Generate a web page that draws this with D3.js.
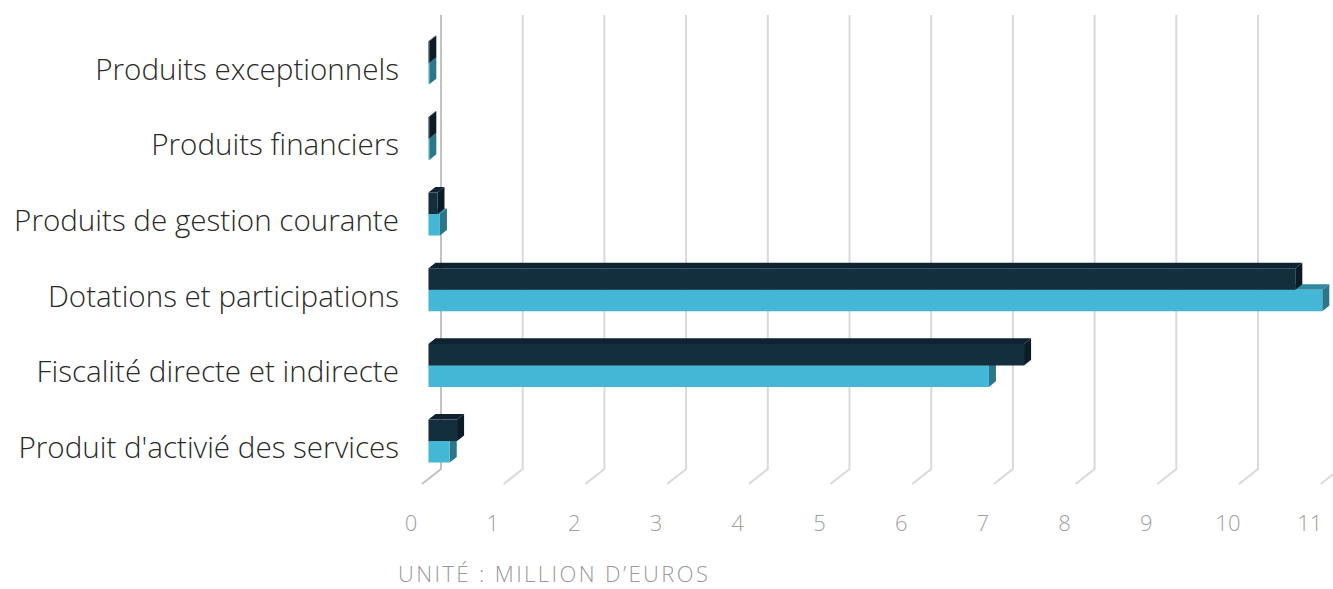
<!DOCTYPE html>
<html>
<head>
<meta charset="utf-8">
<script src="https://cdn.jsdelivr.net/npm/d3@7"></script>
<style>
  body { margin: 0; background: #fff; }
  svg { display: block; }
</style>
</head>
<body>
<svg width="1333" height="589"></svg>
<script>
// data
const categories = [
  "Produits exceptionnels",
  "Produits financiers",
  "Produits de gestion courante",
  "Dotations et participations",
  "Fiscalité directe et indirecte",
  "Produit d'activié des services"
];
const serieSombre = [0.01, 0.01, 0.11, 10.61, 7.29, 0.35];
const serieClaire = [0.01, 0.01, 0.14, 10.94, 6.86, 0.26];
const tickValues = [0, 1, 2, 3, 4, 5, 6, 7, 8, 9, 10, 11];
const unitLabel = "UNITÉ : MILLION D’EUROS";

const svg = d3.select("svg"),
    width = +svg.attr("width"),
    height = +svg.attr("height");

// back plane of the plot
const plotTop = 15, plotBottom = 469;
const depth = [-19, 15];          // floor depth, back -> front
const zBack = 0.29, zFront = 0.66; // where the bars sit in depth

const x = d3.scaleLinear().domain([0, 11]).range([441, 1339.7]);
const y = d3.scaleBand().domain(categories).range([plotTop, plotBottom])
    .paddingInner(0.432).paddingOuter(0.216);
const ySub = d3.scaleBand().domain(["sombre", "claire"]).range([0, y.bandwidth()]);

const P = (v, ys, z) => [x(v) + z * depth[0], ys + z * depth[1]];
const poly = pts => "M" + pts.map(p => p.join(",")).join("L") + "Z";

// grid: vertical walls + floor
svg.append("g")
  .selectAll("path")
  .data(tickValues)
  .join("path")
    .attr("d", t => "M" + x(t) + "," + plotTop + "L" + x(t) + "," + plotBottom +
        "L" + (x(t) + depth[0]) + "," + (plotBottom + depth[1]))
    .attr("fill", "none")
    .attr("stroke", t => t === 0 ? "#c2c2c2" : "#d9d9d9")
    .attr("stroke-width", 2);

// tick labels
svg.append("g")
  .selectAll("text")
  .data(tickValues)
  .join("text")
    .attr("x", t => x(t) + depth[0] - 11)
    .attr("y", 531)
    .attr("text-anchor", "middle")
    .style("font-family", "'Open Sans', sans-serif")
    .style("font-weight", 300)
    .style("font-size", "22px")
    .style("fill", "#a0a0a0")
    .text(d => d);

// bars
const series = [
  { key: "claire", values: serieClaire, front: "#43b7d5", top: "#3189a0", side: "#2b7689" },
  { key: "sombre", values: serieSombre, front: "#132e3d", top: "#0e2230", side: "#0b1c26" }
];

const bars = [];
categories.forEach((c, i) => {
  series.forEach(s => {
    bars.push({ cat: c, key: s.key, v: s.values[i], s: s });
  });
});
// lower categories first, light bar under dark bar
bars.sort((a, b) => categories.indexOf(b.cat) - categories.indexOf(a.cat));

const g = svg.append("g");
bars.forEach(b => {
  const yt = y(b.cat) + ySub(b.key), yb = yt + ySub.bandwidth();
  const bg = g.append("g");
  bg.append("path")
    .attr("d", poly([P(0, yt, zFront), P(b.v, yt, zFront), P(b.v, yt, zBack), P(0, yt, zBack)]))
    .attr("fill", b.s.top);
  bg.append("path")
    .attr("d", poly([P(b.v, yt, zFront), P(b.v, yb, zFront), P(b.v, yb, zBack), P(b.v, yt, zBack)]))
    .attr("fill", b.s.side);
  bg.append("path")
    .attr("d", poly([P(0, yt, zFront), P(b.v, yt, zFront), P(b.v, yb, zFront), P(0, yb, zFront)]))
    .attr("fill", b.s.front);
});

// category labels
const labels = svg.append("g")
  .selectAll("text")
  .data(categories)
  .join("text")
    .attr("x", 399)
    .attr("y", d => y(d) + y.bandwidth() / 2 + depth[1] + 1.5)
    .attr("dy", "0.35em")
    .attr("text-anchor", "end")
    .style("font-family", "'Open Sans', sans-serif")
    .style("font-weight", 300)
    .style("font-size", "24px")
    .style("fill", "#2a2a2a")
    .text(d => d);

// fit the longest label to the reference width
let maxW = 0;
labels.each(function () { maxW = Math.max(maxW, this.getComputedTextLength()); });
labels.style("font-size", (24 * 385 / maxW) + "px");

// unit label, widened with letter spacing
const unit = svg.append("text")
    .attr("x", 398)
    .attr("y", 582)
    .style("font-family", "'Open Sans', sans-serif")
    .style("font-weight", 300)
    .style("font-size", "22px")
    .style("fill", "#999")
    .text(unitLabel);
const uw = unit.node().getComputedTextLength();
unit.style("letter-spacing", Math.max(0, (310 - uw) / (unitLabel.length - 1)) + "px");
</script>
</body>
</html>
